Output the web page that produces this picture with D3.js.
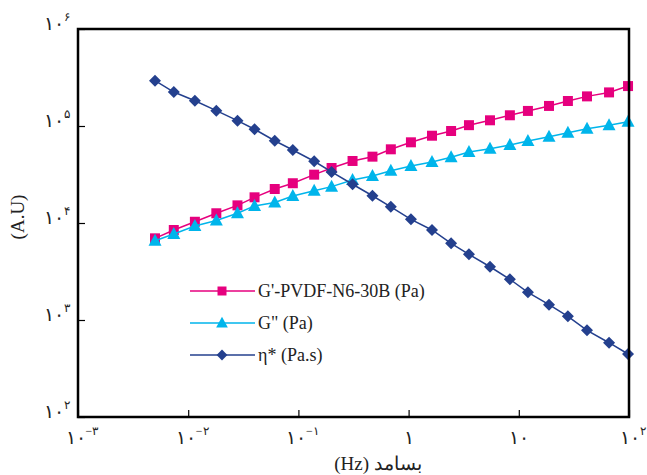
<!DOCTYPE html>
<html>
<head>
<meta charset="utf-8">
<script src="https://cdn.jsdelivr.net/npm/d3@7"></script>
<style>
  body { margin: 0; background: #fff; }
  svg { display: block; }
</style>
</head>
<body>
<svg id="chart"></svg>
<script>
// frequency (Hz) shared by the three series
var freq = [0.005, 0.0074, 0.0115, 0.018, 0.028, 0.040, 0.061, 0.089, 0.139, 0.20, 0.31, 0.47, 0.69,
            1.05, 1.63, 2.43, 3.53, 5.48, 8.3, 12.1, 18.8, 27.9, 41.6, 65.9, 98];
var gPrime = [6950, 8470, 10300, 12600, 15200, 18400, 22400, 25700, 31500, 36900, 43600, 48300, 57500,
              67900, 79400, 88800, 102000, 114500, 129000, 143000, 161000, 181000, 202000, 222000, 258000];
var gDouble = [6570, 7710, 9310, 10600, 12600, 15000, 16300, 19000, 21500, 23700, 27700, 30500, 34600,
               38700, 42600, 47600, 54000, 58300, 63700, 70000, 77600, 85300, 93800, 101600, 110700];
var eta = [293000, 224000, 182000, 144000, 113500, 92500, 70500, 56600, 43300, 33600, 25100, 19100, 14700,
           10900, 8470, 6180, 4750, 3540, 2630, 1930, 1440, 1090, 783, 583, 446];

var seriesNames = ["G'-PVDF-N6-30B (Pa)", "G\" (Pa)", "η* (Pa.s)"];

var xTicks = [1e-3, 1e-2, 1e-1, 1, 10, 100];
var xTickBase = ["۱۰", "۱۰", "۱۰", "۱", "۱۰", "۱۰"];
var xTickExp = ["−۳", "−۲", "−۱", "", "", "۲"];
var yTicks = [1e2, 1e3, 1e4, 1e5, 1e6];
var yTickBase = ["۱۰", "۱۰", "۱۰", "۱۰", "۱۰"];
var yTickExp = ["۲", "۳", "۴", "۵", "۶"];

var xTitle = "بسامد (Hz)";
var yTitle = "(A.U)";

var SERIF = "Times New Roman";

var width = 647, height = 475;
// plot box edges (window.top is read-only, so no plain "top")
var plotL = 78, plotR = 629, plotT = 29, plotB = 417;

var svg = d3.select("#chart").attr("width", width).attr("height", height);

var x = d3.scaleLog().domain([1e-3, 1e2]).range([plotL, plotR]);
var y = d3.scaleLog().domain([1e2, 1e6]).range([plotB, plotT]);

// inward ticks
svg.append("g")
    .attr("transform", "translate(" + plotL + ",0)")
    .call(d3.axisLeft(y).tickValues(yTicks).tickSize(-7).tickFormat(""))
    .call(function (g) {
        g.select(".domain").remove();
        g.selectAll("line").attr("stroke", "#000").attr("stroke-width", 1.2);
    });
svg.append("g")
    .attr("transform", "translate(0," + plotB + ")")
    .call(d3.axisBottom(x).tickValues(xTicks).tickSize(-7).tickFormat(""))
    .call(function (g) {
        g.select(".domain").remove();
        g.selectAll("line").attr("stroke", "#000").attr("stroke-width", 1.2);
    });

// tick labels with persian digits and superscripts
var yLab = svg.selectAll("text.ylab").data(yTicks).enter().append("text")
    .attr("class", "ylab")
    .attr("x", 70)
    .attr("y", function (d) { return y(d) + 1; })
    .attr("text-anchor", "end")
    .attr("fill", "#222")
    .attr("font-family", SERIF)
    .style("font-size", "19px");
yLab.append("tspan").attr("letter-spacing", "5px").text(function (d, i) { return yTickBase[i]; });
yLab.append("tspan").attr("dy", -9).style("font-size", "12px").text(function (d, i) { return yTickExp[i]; });

var xLab = svg.selectAll("text.xlab").data(xTicks).enter().append("text")
    .attr("class", "xlab")
    .attr("x", function (d, i) { return x(d) + (xTickExp[i] ? 4 : 0); })
    .attr("y", 444)
    .attr("text-anchor", "middle")
    .attr("fill", "#222")
    .attr("font-family", SERIF)
    .style("font-size", "19px");
xLab.append("tspan").attr("letter-spacing", function (d, i) { return xTickBase[i].length > 1 ? "5px" : "0px"; })
    .text(function (d, i) { return xTickBase[i]; });
xLab.append("tspan").attr("dy", -9).style("font-size", "12px").text(function (d, i) { return xTickExp[i]; });

// axis titles
svg.append("text")
    .attr("x", 378).attr("y", 470)
    .attr("text-anchor", "middle")
    .attr("direction", "rtl")
    .attr("fill", "#222")
    .attr("font-family", SERIF)
    .style("font-size", "19px")
    .text(xTitle);
svg.append("text")
    .attr("transform", "translate(24,217) rotate(-90)")
    .attr("text-anchor", "middle")
    .attr("fill", "#222")
    .attr("font-family", SERIF)
    .style("font-size", "19px")
    .text(yTitle);

// series
var squarePath = d3.symbol().type(d3.symbolSquare).size(100)();
var trianglePath = "M0,-7L6.5,5L-6.5,5Z";
var diamondPath = "M0,-6L6,0L0,6L-6,0Z";

var series = [
    { name: seriesNames[0], values: gPrime, color: "#e6007e", marker: squarePath },
    { name: seriesNames[1], values: gDouble, color: "#00b5eb", marker: trianglePath },
    { name: seriesNames[2], values: eta, color: "#24408e", marker: diamondPath }
];

var line = d3.line()
    .x(function (d) { return x(d[0]); })
    .y(function (d) { return y(d[1]); });

series.forEach(function (s) {
    var pts = d3.zip(freq, s.values);
    svg.append("path")
        .attr("d", line(pts))
        .attr("fill", "none")
        .attr("stroke", s.color)
        .attr("stroke-width", 1.5);
    svg.selectAll(null).data(pts).enter().append("path")
        .attr("d", s.marker)
        .attr("fill", s.color)
        .attr("transform", function (d) { return "translate(" + x(d[0]) + "," + y(d[1]) + ")"; });
});

// legend
var legend = svg.append("g");
series.forEach(function (s, i) {
    var ly = 291 + i * 32;
    legend.append("line")
        .attr("x1", 190).attr("x2", 255).attr("y1", ly).attr("y2", ly)
        .attr("stroke", s.color).attr("stroke-width", 1.5);
    legend.append("path")
        .attr("d", s.marker)
        .attr("fill", s.color)
        .attr("transform", "translate(222," + ly + ") scale(0.9)");
    legend.append("text")
        .attr("x", 258).attr("y", ly + 6)
        .attr("fill", "#222")
        .attr("font-family", SERIF)
        .style("font-size", "18px")
        .text(s.name);
});

// frame
svg.append("rect")
    .attr("x", plotL).attr("y", plotT)
    .attr("width", plotR - plotL).attr("height", plotB - plotT)
    .attr("fill", "none")
    .attr("stroke", "#000")
    .attr("stroke-width", 2.5);
</script>
</body>
</html>
